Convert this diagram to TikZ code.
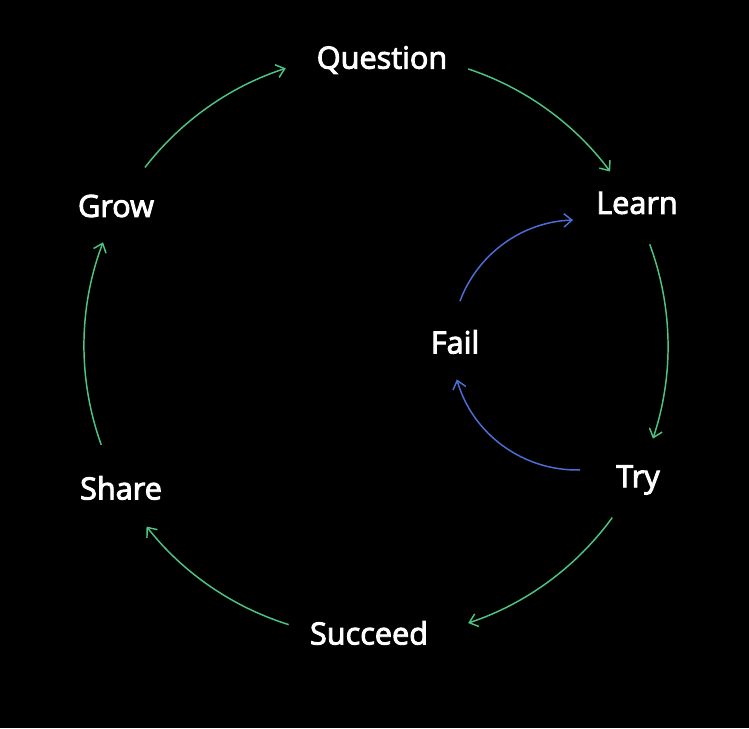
\documentclass[tikz,border=0pt]{standalone}
\usepackage{fontspec}
\setmainfont{Open Sans}
\newfontfamily\lblfont[FakeBold=3]{Open Sans}
\usetikzlibrary{arrows.meta}
\definecolor{cyclegreen}{HTML}{4CC583}
\definecolor{failblue}{HTML}{4A70D6}
\begin{document}
\begin{tikzpicture}[x=0.75pt,y=0.75pt,
  lbl/.style={text=white,font=\lblfont\fontsize{23}{27}\selectfont,inner sep=2pt},
  cyc/.style={draw=cyclegreen,line width=1.1pt,-{Straight Barb[length=6pt,width=10pt]}},
  blu/.style={draw=failblue,line width=1.1pt,-{Straight Barb[length=6pt,width=10pt]}}]
\fill[black] (0,0) rectangle (749,728);
\useasboundingbox (0,0) rectangle (749,728);
% labels
\node[lbl] (Question) at (382,668) {Question};
\node[lbl] (Learn) at (637,525) {Learn};
\node[lbl] (Try) at (638,248) {Try};
\node[lbl] (Succeed) at (369,95) {Succeed};
\node[lbl] (Share) at (121,240) {Share};
\node[lbl] (Grow) at (116,522) {Grow};
\node[lbl] (Fail) at (455,386) {Fail};
% arc end points on the big circle
\begin{scope}[shift={(376,382)}]
  \coordinate (q1) at (71.6:292);  \coordinate (l0) at (36.7:292);
  \coordinate (l1) at (20.4:292);  \coordinate (t0) at (-18.5:292);
  \coordinate (t1) at (-36:292);   \coordinate (s0) at (-71.6:292);
  \coordinate (s1) at (-107.4:292);\coordinate (h0) at (-141.8:292);
  \coordinate (h1) at (-160.2:292);\coordinate (g0) at (-200.8:292);
  \coordinate (g1) at (142.3:292); \coordinate (qq) at (108:292);
\end{scope}
\begin{scope}[shift={(577,383)}]
  \coordinate (y1) at (-88.6:125); \coordinate (f0) at (-164:125);
  \coordinate (f1) at (159.5:125); \coordinate (n0) at (91.8:125);
\end{scope}
\draw[cyc] (q1) arc[start angle=71.6,end angle=36.7,radius=292];
\draw[cyc] (l1) arc[start angle=20.4,end angle=-18.5,radius=292];
\draw[cyc] (t1) arc[start angle=-36,end angle=-71.6,radius=292];
\draw[cyc] (s1) arc[start angle=-107.4,end angle=-141.8,radius=292];
\draw[cyc] (h1) arc[start angle=-160.2,end angle=-200.8,radius=292];
\draw[cyc] (g1) arc[start angle=142.3,end angle=108,radius=292];
\draw[blu] (y1) arc[start angle=-88.6,end angle=-164,radius=125];
\draw[blu] (f1) arc[start angle=159.5,end angle=91.8,radius=125];
\end{tikzpicture}
\end{document}
